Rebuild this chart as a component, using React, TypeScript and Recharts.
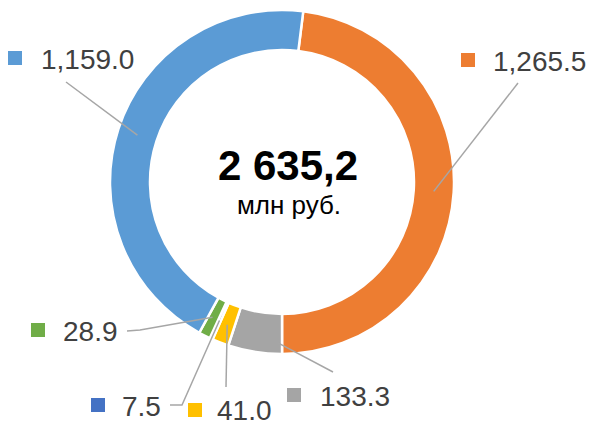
import { PieChart, Pie, Cell } from 'recharts'

const categories = ['A', 'B', 'C', 'D', 'E', 'F']
const values = [1265.5, 133.3, 41.0, 7.5, 28.9, 1159.0]
const valueLabels = ['1,265.5', '133.3', '41.0', '7.5', '28.9', '1,159.0']
const totalLabel = '2 635,2'
const unitLabel = 'млн руб.'

const colors = ['#ED7D31', '#A5A5A5', '#FFC000', '#4472C4', '#70AD47', '#5B9BD5']

// label placement: square corner, text start/baseline, leader anchor (fraction along slice, radius), elbow points
const labelLayout = [
  { sq: [461, 53], tx: 493, ty: 71, f: 0.5, r: 152, pts: [[518, 83]] },
  { sq: [287, 388], tx: 320, ty: 406, f: 0.08, r: 161, pts: [[333, 372]] },
  { sq: [188, 403], tx: 217, ty: 420, f: 0.5, r: 153, pts: [[226, 387]] },
  { sq: [91, 398], tx: 122, ty: 416, f: 0.5, r: 152, pts: [[182, 405], [170, 405]] },
  { sq: [31, 323], tx: 63, ty: 341, f: 0.6, r: 152, pts: [[140, 330], [127, 331]] },
  { sq: [8, 51], tx: 41, ty: 69, f: 0.5, r: 152, pts: [[66, 82]] },
]

const data = categories.map((name, i) => ({ name, value: values[i] }))

const RADIAN = Math.PI / 180
const FONT = "'Liberation Sans', Arial, sans-serif"

function renderLabel(props: any) {
  const { cx, cy, startAngle, endAngle, index } = props
  const l = labelLayout[index]
  const a = startAngle + l.f * (endAngle - startAngle)
  const x0 = cx + l.r * Math.cos(-a * RADIAN)
  const y0 = cy + l.r * Math.sin(-a * RADIAN)
  const d = `M${x0},${y0}` + l.pts.map((p) => ` L${p[0]},${p[1]}`).join('')
  return (
    <g key={`lbl-${index}`}>
      <path d={d} stroke="#A6A6A6" strokeWidth={1.5} fill="none" />
      <rect x={l.sq[0]} y={l.sq[1]} width={14} height={14} fill={colors[index]} />
      <text x={l.tx} y={l.ty} fill="#404040" fontSize={28} fontFamily={FONT}>
        {valueLabels[index]}
      </text>
      {index === 0 && (
        <>
          <text x={cx + 6} y={cy - 2} textAnchor="middle" fill="#000" fontSize={42} fontWeight="bold" fontFamily={FONT}>
            {totalLabel}
          </text>
          <text x={cx + 7} y={cy + 32} textAnchor="middle" fill="#000" fontSize={26} fontFamily={FONT}>
            {unitLabel}
          </text>
        </>
      )}
    </g>
  )
}

export default function App() {
  return (
    <div style={{ width: 592, height: 424, background: '#fff' }}>
      <style>{`body{margin:0}`}</style>
      <PieChart width={592} height={424} margin={{ top: 0, right: 0, bottom: 0, left: 0 }}>
        <Pie
          data={data}
          dataKey="value"
          cx={282}
          cy={182}
          innerRadius={132}
          outerRadius={172}
          startAngle={82.9}
          endAngle={-277.1}
          stroke="#fff"
          strokeWidth={2.5}
          label={renderLabel}
          labelLine={false}
          isAnimationActive={false}
        >
          {data.map((d, i) => (
            <Cell key={d.name} fill={colors[i]} />
          ))}
        </Pie>
      </PieChart>
    </div>
  )
}
